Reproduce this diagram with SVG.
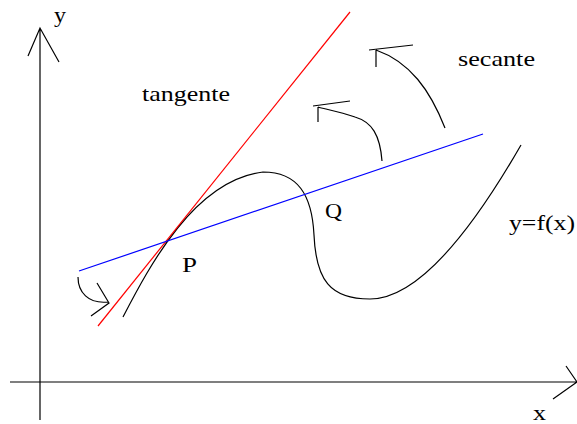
<svg xmlns="http://www.w3.org/2000/svg" width="577" height="424" viewBox="0 0 577 424">
<style>
.ln{fill:none;stroke:#000;stroke-width:1.2}
.t{font-family:"Liberation Serif","Times New Roman",serif;font-size:22px;fill:#000}
</style>
<rect width="577" height="424" fill="#fff"/>
<g id="axes">
<path class="ln" d="M40,420 L40,28 M28,56 L40,28 L59,62"/>
<path class="ln" d="M10,382 L577,382 M566,366 L577,382 L553,399"/>
<text class="t" x="54" y="22" textLength="12" lengthAdjust="spacingAndGlyphs">y</text>
<text class="t" x="533" y="420" textLength="13" lengthAdjust="spacingAndGlyphs">x</text>
</g>
<g id="curve">
<path class="ln" d="M123,317 C150,265 195,180 263,172 C298,172 312,195 314,235 C316,280 330,299 370,299 C420,299 475,225 521,145"/>
<text class="t" x="509" y="230" textLength="66" lengthAdjust="spacingAndGlyphs">y=f(x)</text>
</g>
<g id="tangent">
<line x1="98" y1="326" x2="350" y2="12" stroke="#ff0000" stroke-width="1.2"/>
<text class="t" x="142" y="101" textLength="88" lengthAdjust="spacingAndGlyphs">tangente</text>
</g>
<g id="secant">
<line x1="79" y1="271" x2="483" y2="134" stroke="#0000ff" stroke-width="1.2"/>
<text class="t" x="458" y="66" textLength="77" lengthAdjust="spacingAndGlyphs">secante</text>
</g>
<g id="points">
<text class="t" x="182" y="272" textLength="15" lengthAdjust="spacingAndGlyphs">P</text>
<text class="t" x="325" y="218" textLength="17" lengthAdjust="spacingAndGlyphs">Q</text>
</g>
<g id="connectors">
<path class="ln" d="M78,277 C78,292 88,304 108,302 M97,283 L109,303 L91,316"/>
<path class="ln" d="M382,161 C380,135 372,122 355,117 C340,112 325,109 318,107 M313,106 L350,101 M318,107 L318,122"/>
<path class="ln" d="M445,128 C430,90 410,62 376,50 M369,50 L413,45 M376,50 L376,67"/>
</g>
</svg>
